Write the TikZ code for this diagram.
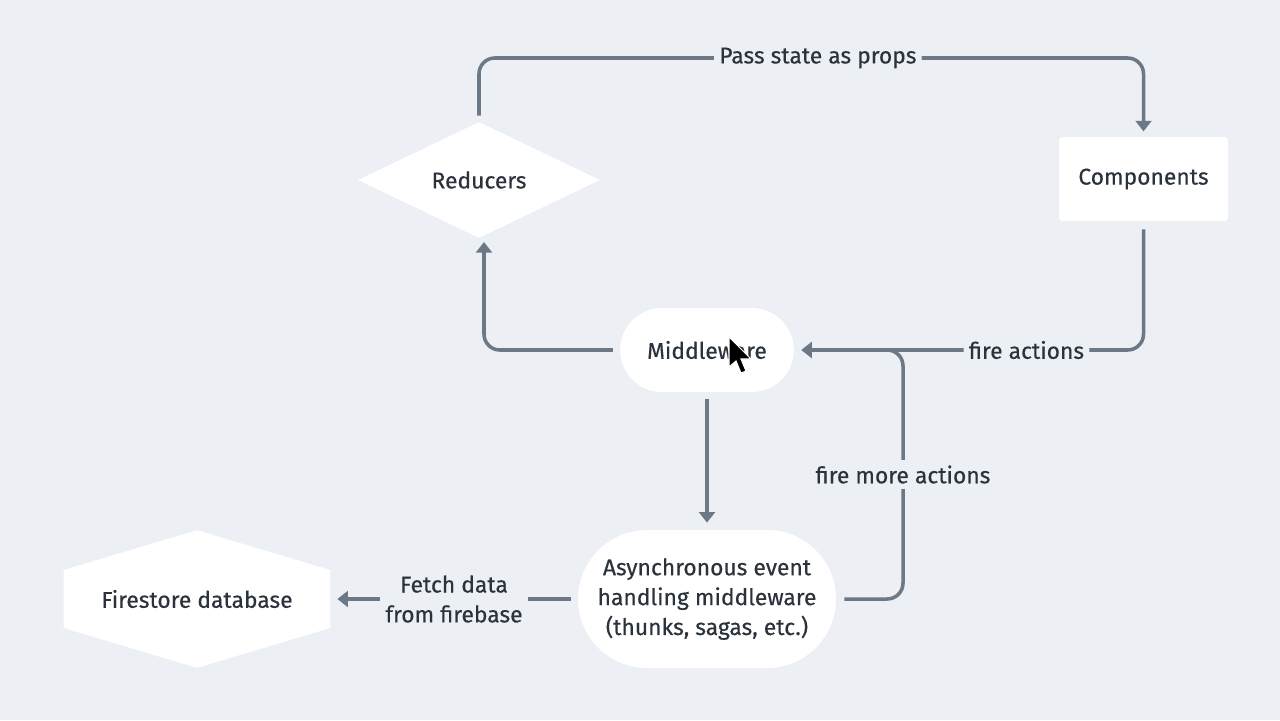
\documentclass[tikz,border=0pt]{standalone}
\usepackage{fontspec}
\setmainfont{Fira Sans}
\newfontfamily\labelfont{Fira Sans}[FakeBold=0.3]
\usetikzlibrary{shapes.geometric, shapes.misc, arrows.meta, positioning, calc}

\definecolor{canvas}{HTML}{ECEFF4}
\definecolor{ink}{HTML}{2A323C}
\definecolor{wire}{HTML}{6C7886}

\begin{document}
\begin{tikzpicture}[
        every node/.style={text=ink, font=\labelfont\fontsize{13}{17}\selectfont},
        decision/.style={diamond, fill=white, aspect=2, minimum width=4.84cm, minimum height=2.32cm, inner sep=0pt},
        block/.style={rectangle, fill=white, rounded corners=2pt, minimum width=3.38cm, minimum height=1.68cm},
        pill/.style={rounded rectangle, rounded rectangle arc length=180, fill=white, align=center, inner xsep=2pt},
        store/.style={rectangle, draw=none, minimum width=5.32cm, minimum height=2.74cm},
        link/.style={draw=wire, line width=2pt, rounded corners=9pt},
        flow/.style={link, -{Triangle[length=6pt, width=9pt]}},
        tag/.style={fill=canvas, inner sep=3pt, align=center}
    ]
        % Background
        \fill[canvas] (0,0) rectangle (25.6,-14.4);

        % Nodes
        \node[decision] (reducers) at (9.58,-3.6) {Reducers};
        \node[block] (components) at (22.87,-3.58) {Components};
        \node[pill, minimum width=3.4cm, minimum height=1.68cm] (middleware) at (14.14,-7.0) {\hspace{0.45cm}Middleware\hspace{0.45cm}};
        \node[pill, minimum width=5.3cm, minimum height=2.76cm] (async) at (14.14,-11.98) {Asynchronous event\\handling middleware\\(thunks, sagas, etc.)};
        \node[store] (firestore) at (3.94,-11.98) {};
        % Hexagon for the database
        \fill[white] (firestore.west |- 0,-11.4) -- (firestore.north) -- (firestore.east |- 0,-11.4)
            -- (firestore.east |- 0,-12.56) -- (firestore.south) -- (firestore.west |- 0,-12.56) -- cycle;
        \node at (firestore) {Firestore database};

        % Corners
        \coordinate (topleft) at (9.58,-1.16);
        \coordinate (topright) at (22.87,-1.16);
        \coordinate (merge) at (18.06,-7.0);

        % Messages
        \draw[flow, shorten <=3.5pt, shorten >=3pt] (reducers.north) -- (topleft) -- node[tag, pos=0.51] {Pass state as props} (topright) -- (components.north);
        \draw[flow, shorten <=4.5pt, shorten >=4pt] (components.south) -- (components.south |- middleware) -- node[tag, pos=0.335] {fire actions} (middleware.east);
        \draw[link, shorten <=4.5pt] (async.east) -- (async.east -| merge) -- node[tag] {fire more actions} (merge) -- ++(-0.6,0);
        \draw[flow, shorten <=4pt] (middleware.west) -- (9.68,-7.0) -- (9.68,-4.84);
        \draw[flow, shorten <=3.5pt, shorten >=4pt] (middleware.south) -- (async.north);
        \draw[flow, shorten <=4pt, shorten >=4pt] (async.west) -- node[tag] {Fetch data\\from firebase} (firestore.east);

        % Cursor
        \begin{scope}[shift={(14.58,-6.74)}, x=0.02cm, y=-0.02cm]
            \filldraw[fill=black, draw=white, line width=0.6pt] (0,0) -- (0,30) -- (7,24) -- (12,36) -- (17,34) -- (12,22) -- (22,22) -- cycle;
        \end{scope}
    \end{tikzpicture}
\end{document}
